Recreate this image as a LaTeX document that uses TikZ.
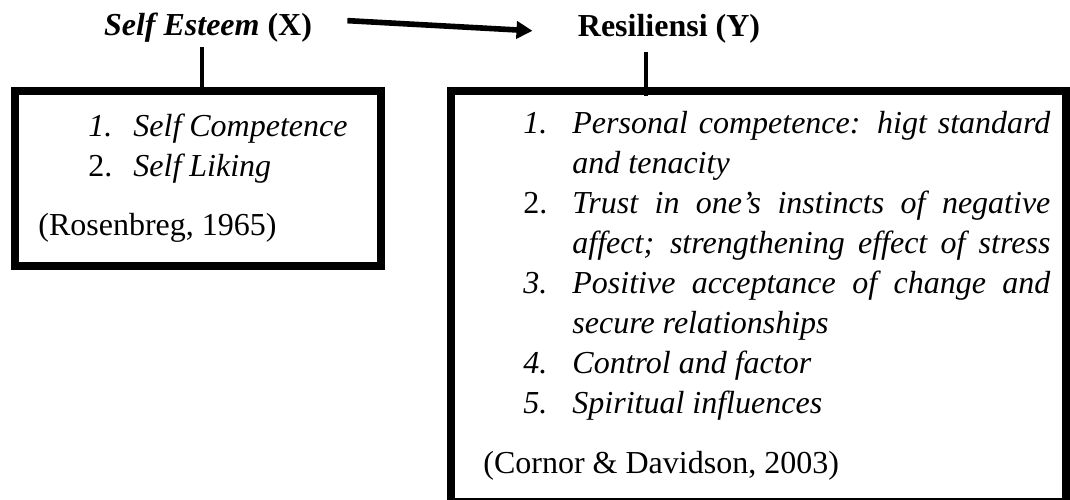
\documentclass[tikz,border=0pt]{standalone}
\usepackage{fontspec}
\setmainfont{Liberation Serif}
\usetikzlibrary{arrows.meta}

\newcommand{\jline}[1]{\makebox[239pt][s]{#1}}

\begin{document}
\begin{tikzpicture}[x=0.5pt, y=-0.5pt,
    every node/.style={inner sep=0pt, font=\fontsize{16}{20}\selectfont},
    title/.style={anchor=base, font=\fontsize{16}{20}\selectfont\bfseries},
    frame/.style={draw, rectangle, line width=4pt},
    link/.style={line width=2pt},
    item/.style={anchor=base west, font=\fontsize{16}{20}\selectfont\itshape},
    cite/.style={anchor=base west}]
    \useasboundingbox (0, 0) rectangle (1070, 499);

    \node[title] (x) at (208, 35) {\textit{Self Esteem} (X)};
    \node[title] (y) at (669, 36) {Resiliensi (Y)};

    \node[frame, minimum width=183pt, minimum height=87.5pt] (boxx) at (198, 178.5) {};
    \node[frame, minimum width=307.5pt, minimum height=205.5pt] (boxy) at (758.5, 296.5) {};

    \draw[link, line width=2.8pt, -{Triangle[length=8pt, width=8.5pt]}]
        ([xshift=17.5pt, yshift=3.25pt]x.east) -- ([xshift=-22.5pt, yshift=-1.25pt]y.west);
    \draw[link] ([xshift=-3pt, yshift=-2.5pt]x.south) -- ([xshift=-3pt, yshift=-2.5pt]x.south |- boxx.north);
    \draw[link] ([xshift=-11.5pt, yshift=-4.5pt]y.south) -- ([xshift=-11.5pt, yshift=-4.5pt]y.south |- boxy.north);

    \node[item] (xn1) at (88, 136) {1.};
    \node[item] (xt1) at (133, 136) {Self Competence};
    \node[cite] (xn2) at (88, 176) {2.};
    \node[item] (xt2) at (133, 176) {Self Liking};
    \node[cite] (xsrc) at (38, 235) {(Rosenbreg, 1965)};

    \node[item] (yn1) at (523, 133) {1.};
    \node[item] (yt1) at (572, 133) {\jline{Personal competence: higt standard}};
    \node[item] (yt1b) at (572, 173) {and tenacity};
    \node[cite] (yn2) at (523, 213) {2.};
    \node[item] (yt2) at (572, 213) {\jline{Trust in one’s instincts of negative}};
    \node[item] (yt2b) at (572, 253) {\jline{affect; strengthening effect of stress}};
    \node[item] (yn3) at (523, 293) {3.};
    \node[item] (yt3) at (572, 293) {\jline{Positive acceptance of change and}};
    \node[item] (yt3b) at (572, 333) {secure relationships};
    \node[item] (yn4) at (523, 373) {4.};
    \node[item] (yt4) at (572, 373) {Control and factor};
    \node[item] (yn5) at (523, 413) {5.};
    \node[item] (yt5) at (572, 413) {Spiritual influences};
    \node[cite] (ysrc) at (483, 473) {(Cornor \& Davidson, 2003)};
\end{tikzpicture}
\end{document}
